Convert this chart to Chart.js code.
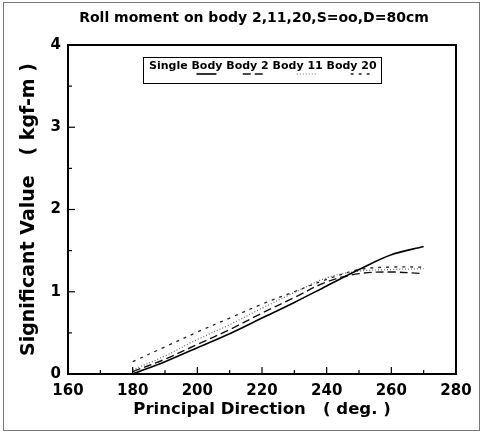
<!DOCTYPE html>
<html>
	<head>
		<title>Roll moment on body 2,11,20</title>
		<meta charset="utf-8">
		<script src="https://cdn.jsdelivr.net/npm/chart.js"></script>
		<style>
			html, body { margin: 0; padding: 0; background: #fff; }
			#wrap { width: 483px; height: 432px; }
		</style>
	</head>
	<body>
		<div id="wrap"><canvas id="roll"></canvas></div>

		<script>

			// Data.
			const directions = [180, 190, 200, 210, 220, 230, 240, 250, 260, 270];
			const singleBody = [0.00, 0.15, 0.32, 0.49, 0.68, 0.87, 1.07, 1.27, 1.45, 1.55];
			const body2      = [0.03, 0.18, 0.36, 0.54, 0.74, 0.93, 1.12, 1.22, 1.24, 1.22];
			const body11     = [0.05, 0.22, 0.42, 0.60, 0.80, 0.99, 1.17, 1.25, 1.27, 1.28];
			const body20     = [0.15, 0.33, 0.51, 0.68, 0.85, 1.00, 1.15, 1.27, 1.30, 1.30];
			const seriesNames = ['Single Body', 'Body 2', 'Body 11', 'Body 20'];
			const xTicks = [160, 180, 200, 220, 240, 260, 280];
			const yTicks = [0, 1, 2, 3, 4];

			const FONT = '"DejaVu Sans", Arial, sans-serif';

			function toPoints(vals) {
				return directions.map((d, i) => ({ x: d, y: vals[i] }));
			}

			// Line styles for each series.
			const styles = [
				{ color: '#000', width: 1.6, dash: [] },
				{ color: '#111', width: 1.4, dash: [8, 4] },
				{ color: '#666', width: 1.2, dash: [1, 2] },
				{ color: '#222', width: 1.3, dash: [3, 5] }
			];
			const allSeries = [singleBody, body2, body11, body20];

			// Frame, title, minor ticks and the boxed legend.
			const decor = {
				id: 'decor',
				afterDraw(chart) {
					const ctx = chart.ctx;
					const a = chart.chartArea;
					const xs = chart.scales.x, ys = chart.scales.y;
					ctx.save();

					// outer frame
					ctx.strokeStyle = '#777';
					ctx.lineWidth = 1;
					ctx.strokeRect(3.5, 2.5, 476, 428);

					// title
					ctx.fillStyle = '#000';
					ctx.font = 'bold 14px ' + FONT;
					ctx.textAlign = 'center';
					ctx.textBaseline = 'middle';
					ctx.fillText('Roll moment on body 2,11,20,S=oo,D=80cm', 254, 18);

					// inward ticks
					ctx.strokeStyle = '#000';
					ctx.lineWidth = 1.2;
					for (let v = 170; v < 280; v += 10) {
						const px = xs.getPixelForValue(v);
						ctx.beginPath();
						ctx.moveTo(px, a.bottom);
						ctx.lineTo(px, a.bottom - (v % 20 === 0 ? 7 : 4));
						ctx.stroke();
					}
					for (let v = 0.5; v < 4; v += 0.5) {
						const py = ys.getPixelForValue(v);
						ctx.beginPath();
						ctx.moveTo(a.left, py);
						ctx.lineTo(a.left + (v % 1 === 0 ? 7 : 4), py);
						ctx.stroke();
					}

					// plot border
					ctx.lineWidth = 2;
					ctx.strokeRect(a.left, a.top, a.right - a.left, a.bottom - a.top);

					// legend box
					const lx = 143, ly = 57, lw = 238, lh = 26;
					ctx.lineWidth = 1;
					ctx.strokeRect(lx + 0.5, ly + 0.5, lw, lh);
					ctx.font = 'bold 11px ' + FONT;
					ctx.textAlign = 'left';
					let tx = lx + 6;
					const ty = ly + 9;
					chart.data.datasets.forEach((ds, i) => {
						const w = ctx.measureText(ds.label).width;
						ctx.fillStyle = '#000';
						ctx.fillText(ds.label, tx, ty);
						ctx.beginPath();
						ctx.strokeStyle = ds.borderColor;
						ctx.lineWidth = ds.borderWidth;
						ctx.setLineDash(ds.borderDash);
						ctx.moveTo(tx + w - 26, ly + 17);
						ctx.lineTo(tx + w - 6, ly + 17);
						ctx.stroke();
						ctx.setLineDash([]);
						tx += w + ctx.measureText(' ').width;
					});

					ctx.restore();
				}
			};

			new Chart(document.getElementById('roll'), {
				type: 'line',
				data: {
					datasets: allSeries.map((s, i) => ({
						label: seriesNames[i],
						data: toPoints(s),
						borderColor: styles[i].color,
						borderWidth: styles[i].width,
						borderDash: styles[i].dash,
						pointRadius: 0,
						tension: 0.35,
						fill: false
					}))
				},
				options: {
					responsive: true,
					maintainAspectRatio: false,
					animation: false,
					layout: { padding: { left: 0, top: 45, right: 27, bottom: 0 } },
					plugins: {
						legend: { display: false },
						title: { display: false },
						tooltip: { enabled: false }
					},
					scales: {
						x: {
							type: 'linear',
							min: 160,
							max: 280,
							afterBuildTicks: (s) => { s.ticks = xTicks.map(v => ({ value: v })); },
							afterFit: (s) => { s.height = 58; },
							grid: { display: false, drawTicks: false },
							border: { display: false },
							ticks: {
								padding: 8,
								color: '#000',
								font: { family: FONT, size: 15, weight: 'bold' },
								maxRotation: 0
							},
							title: {
								display: true,
								text: 'Principal Direction   ( deg. )',
								color: '#000',
								font: { family: FONT, size: 16.5, weight: 'bold' },
								padding: { top: 0, bottom: 12 }
							}
						},
						y: {
							min: 0,
							max: 4,
							afterBuildTicks: (s) => { s.ticks = yTicks.map(v => ({ value: v })); },
							afterFit: (s) => { s.width = 68; },
							grid: { display: false, drawTicks: false },
							border: { display: false },
							ticks: {
								padding: 7,
								color: '#000',
								font: { family: FONT, size: 15, weight: 'bold' }
							},
							title: {
								display: true,
								text: 'Significant Value   ( kgf-m )',
								color: '#000',
								font: { family: FONT, size: 19, weight: 'bold' },
								padding: { top: 18, bottom: 0 }
							}
						}
					}
				},
				plugins: [decor]
			});

		</script>
	</body>
</html>
